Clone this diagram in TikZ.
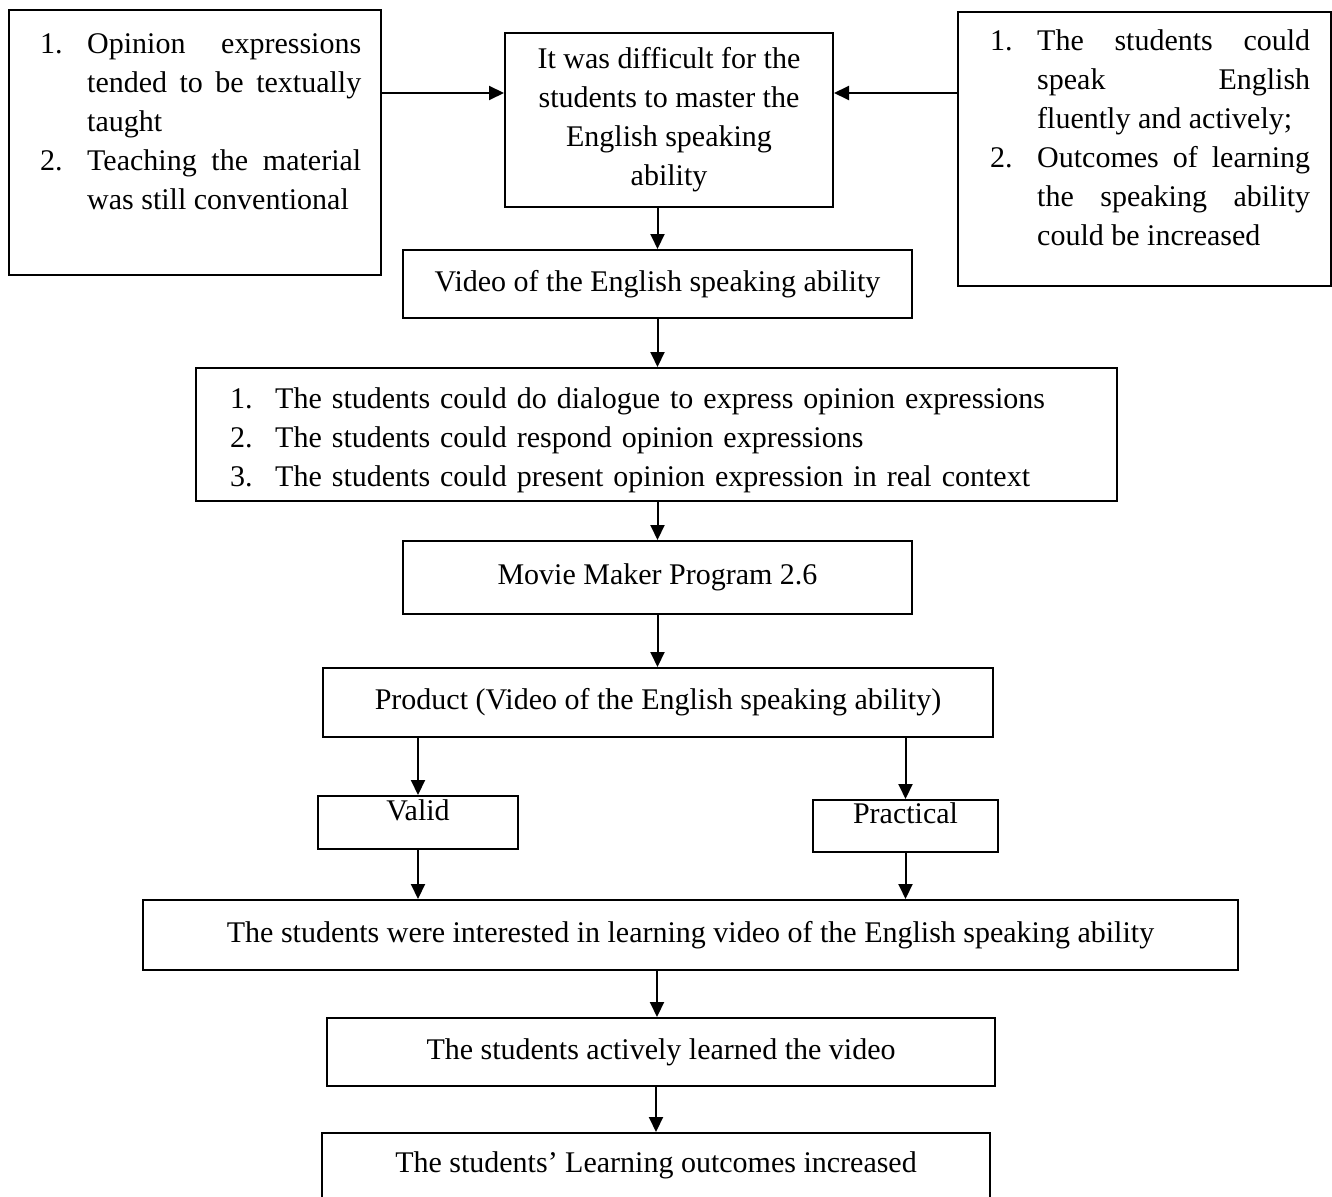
\documentclass[tikz,border=0pt]{standalone}
\usepackage{fontspec}
\setmainfont{Liberation Serif}
\usepackage{enumitem}
\usetikzlibrary{arrows.meta,calc}
\setlist[enumerate]{leftmargin=47pt,labelindent=0pt,labelwidth=47pt,labelsep=0pt,align=left,itemsep=0pt,topsep=0pt,parsep=0pt,partopsep=0pt}
\hyphenpenalty=10000

\begin{document}
\begin{tikzpicture}[x=1pt,y=-1pt,every node/.style={font=\fontsize{30}{39}\selectfont}]
	\tikzstyle{box}=[draw, line width=2pt, inner sep=0pt]
	\tikzstyle{words}=[inner sep=0pt]
	\tikzstyle{edge}=[draw, line width=2pt, -{Triangle[length=15pt,width=14pt]}]
	\clip (0,0) rectangle (1332,1196);
	% problems, difficulty, expectations
	\node [box, minimum width=372pt, minimum height=265pt] (lbox) at (195,142.5) {};
	\node [words, text width=321pt, align=justify, anchor=north west] (ltext) at (40,14) {%
		\begin{enumerate}
			\item Opinion expressions\linebreak tended to be textually\linebreak taught
			\item Teaching the material\linebreak was still conventional
		\end{enumerate}};
	\node [box, minimum width=328pt, minimum height=174pt, align=center] (cbox) at (669,120) {It was difficult for the\\students to master the\\English speaking\\ability};
	\node [box, minimum width=373pt, minimum height=274pt] (rbox) at (1144.5,149) {};
	\node [words, text width=320pt, align=justify, anchor=north west] (rtext) at (990,11) {%
		\begin{enumerate}
			\item The students could\linebreak speak English\linebreak fluently and actively;
			\item Outcomes of learning\linebreak the speaking ability\linebreak could be increased
		\end{enumerate}};
	% main chain
	\node [box, minimum width=509pt, minimum height=68pt] (vbox) at (657.5,284) {Video of the English speaking ability};
	\node [box, minimum width=921pt, minimum height=133pt] (dbox) at (656.5,434.5) {};
	\node [words, text width=880pt, align=left, anchor=north west] (dtext) at (230,369) {%
		\begin{enumerate}[leftmargin=45pt,labelwidth=45pt]
			\item The students could do dialogue to express opinion expressions
			\item The students could respond opinion expressions
			\item The students could present opinion expression in real context
		\end{enumerate}};
	\node [box, minimum width=509pt, minimum height=73pt] (mbox) at (657.5,577.5) {Movie Maker Program 2.6};
	\node [box, minimum width=670pt, minimum height=69pt] (pbox) at (658,702.5) {Product (Video of the English speaking ability)};
	\node [box, minimum width=200pt, minimum height=53pt] (valbox) at (418,822.5) {};
	\node [words] (valtext) at ($(valbox.center)+(0,-12)$) {Valid};
	\node [box, minimum width=185pt, minimum height=52pt] (prbox) at (905.5,826) {};
	\node [words] (prtext) at ($(prbox.center)+(0,-13)$) {Practical};
	\node [box, minimum width=1095pt, minimum height=70pt] (ibox) at (690.5,935) {The students were interested in learning video of the English speaking ability};
	\node [box, minimum width=668pt, minimum height=68pt] (abox) at (661,1052) {The students actively learned the video};
	\node [box, minimum width=668pt, minimum height=84pt] (obox) at (656,1175) {};
	\node [words] (otext) at ($(obox.north)+(0,33)$) {The students’ Learning outcomes increased};
	% arrows
	\path[edge] (lbox.east |- 0,93) -- (cbox.west |- 0,93);
	\path[edge] (rbox.west |- 0,93) -- (cbox.east |- 0,93);
	\path[edge] (vbox.north |- cbox.south) -- (vbox.north);
	\path[edge] (vbox.south) -- (vbox.south |- dbox.north);
	\path[edge] (mbox.north |- dbox.south) -- (mbox.north);
	\path[edge] (mbox.south) -- (mbox.south |- pbox.north);
	\path[edge] (valbox.north |- pbox.south) -- (valbox.north);
	\path[edge] (prbox.north |- pbox.south) -- (prbox.north);
	\path[edge] (valbox.south) -- (valbox.south |- ibox.north);
	\path[edge] (prbox.south) -- (prbox.south |- ibox.north);
	\path[edge] ([xshift=-4pt]abox.north |- ibox.south) -- ([xshift=-4pt]abox.north);
	\path[edge] (obox.north |- abox.south) -- (obox.north);
\end{tikzpicture}
\end{document}
